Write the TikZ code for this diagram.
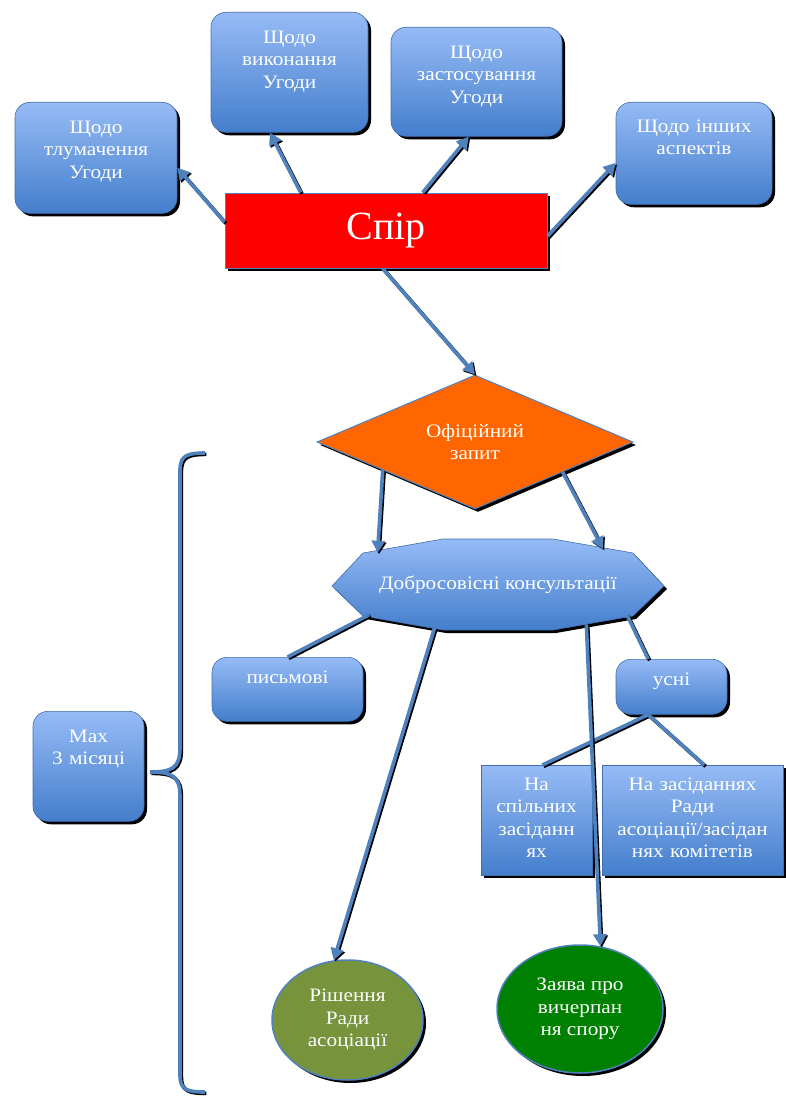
\documentclass[tikz,border=0pt]{standalone}
\usepackage{fontspec}
\setmainfont{Liberation Serif}[FakeStretch=1.12]
\newfontfamily\bigfont{Liberation Serif}
\usetikzlibrary{shapes.geometric,shadows,arrows.meta}
\definecolor{boxtop}{RGB}{150,187,246}
\definecolor{boxbot}{RGB}{68,126,204}
\definecolor{rimblue}{RGB}{65,110,175}
\definecolor{linkblue}{RGB}{79,129,189}
\definecolor{olivegreen}{RGB}{119,147,60}
\definecolor{darkgreen}{RGB}{0,128,0}
\definecolor{orangefill}{RGB}{255,102,0}

\begin{document}
\begin{tikzpicture}[x=1pt, y=-1pt, font=\fontsize{19}{22.5}\selectfont,
  dark shadow/.style={general shadow={fill=black, shadow xshift=3pt, shadow yshift=-3pt}},
  blue box/.style={rectangle, rounded corners=15pt, draw=rimblue, line width=0.6pt, top color=boxtop, bottom color=boxbot, dark shadow, text=white, align=center, anchor=north, inner sep=4pt},
  flat box/.style={blue box, rounded corners=0pt},
  round node/.style={ellipse, draw=linkblue, line width=1.5pt, dark shadow, text=white, align=center, inner sep=0pt},
  link/.style={draw=linkblue, line width=3.6pt, preaction={draw=black, line width=3.6pt, transform canvas={xshift=1.4pt, yshift=-1.4pt}}},
  arrow link/.style={link, -{Triangle[length=12pt, width=13pt]}}]
  \useasboundingbox (0,0) rectangle (786,1097);

  \node[blue box, text width=154pt, text height=27pt, text depth=76pt] (tlum) at (96,102) {Щодо\\тлумачення\\Угоди};
  \node[blue box, text width=149pt, text height=27pt, text depth=85pt] (vyk) at (289.5,12) {Щодо\\виконання\\Угоди};
  \node[blue box, text width=163pt, text height=27pt, text depth=74pt] (zast) at (476.5,27) {Щодо\\застосування\\Угоди};
  \node[blue box, text width=148pt, text height=26pt, text depth=68pt] (insh) at (694,102) {Щодо інших\\аспектів};
  \node[rectangle, fill=red, draw=linkblue, line width=1pt, dark shadow, minimum width=322pt, minimum height=75pt, text=white] (spir) at (386,230.5) {\bigfont\fontsize{40}{40}\selectfont Спір};

  \node[diamond, fill=orangefill, draw=linkblue, line width=1pt, dark shadow, minimum width=316pt, minimum height=134pt, aspect=2.36, inner sep=0pt, text=white, align=center] (dia) at (475,442) {Офіційний\\запит};

  \path[top color=boxtop, bottom color=boxbot, draw=rimblue, line width=0.6pt, dark shadow]
    (332,586) -- (363,553) -- (443,539) -- (553,539) -- (633,553) -- (664,586) -- (633,616) -- (553,630) -- (443,630) -- (363,616) -- cycle;
  \node[ellipse, minimum width=334pt, minimum height=92pt, inner sep=0pt, text=white] (kons) at (498,585) {Добросовісні консультації};

  \node[blue box, text width=143pt, text height=22pt, text depth=34pt] (pysm) at (287.5,657) {письмові};
  \node[blue box, text width=103pt, text height=22pt, text depth=25pt] (usni) at (671.5,659) {усні};
  \node[blue box, text width=103pt, text height=27pt, text depth=75pt] (max) at (88.5,711) {Max\\3 місяці};
  \node[flat box, text width=103pt, text height=21pt, text depth=81pt] (spil) at (536.5,765) {На\\спільних\\засіданн\\ях};
  \node[flat box, text width=173pt, text height=21pt, text depth=81pt] (rada) at (692.5,765) {На засіданнях\\Ради\\асоціації/засідан\\нях комітетів};

  \node[round node, fill=olivegreen, minimum width=151pt, minimum height=120pt] (rish) at (347.5,1020) {Рішення\\Ради\\асоціації};
  \node[round node, fill=darkgreen, minimum width=166pt, minimum height=128pt] (zay) at (580,1009) {Заява про\\вичерпан\\ня спору};

  \path (spir.177) edge[arrow link] (tlum.-7);
  \path (spir.156) edge[arrow link] (vyk.-108);
  \path (spir.46) edge[arrow link] (zast.-98);
  \path (spir.-2) edge[arrow link] (insh.-173);
  \path (spir.-95) edge[arrow link] (dia.north);
  \path (dia.-163) edge[arrow link] (kons.165);
  \path (dia.-19) edge[arrow link] (kons.19);
  \path (kons.-167) edge[link] (pysm.north);
  \path (kons.-13) edge[link] (usni.130);
  \path (usni.-130) edge[link] (spil.84);
  \path (usni.-130) edge[link] (rada.78);
  \path (kons.-146) edge[arrow link] (rish.103);
  \path (kons.-24) edge[arrow link] (zay.72);

  \draw[link] (205,453) .. controls (188,453) and (180,455) .. (180,470) -- (180,748)
    .. controls (180,768) and (172,772) .. (150,772) .. controls (172,772) and (180,776) .. (180,796)
    -- (180,1076) .. controls (180,1090) and (188,1092) .. (205,1092);
\end{tikzpicture}
\end{document}
